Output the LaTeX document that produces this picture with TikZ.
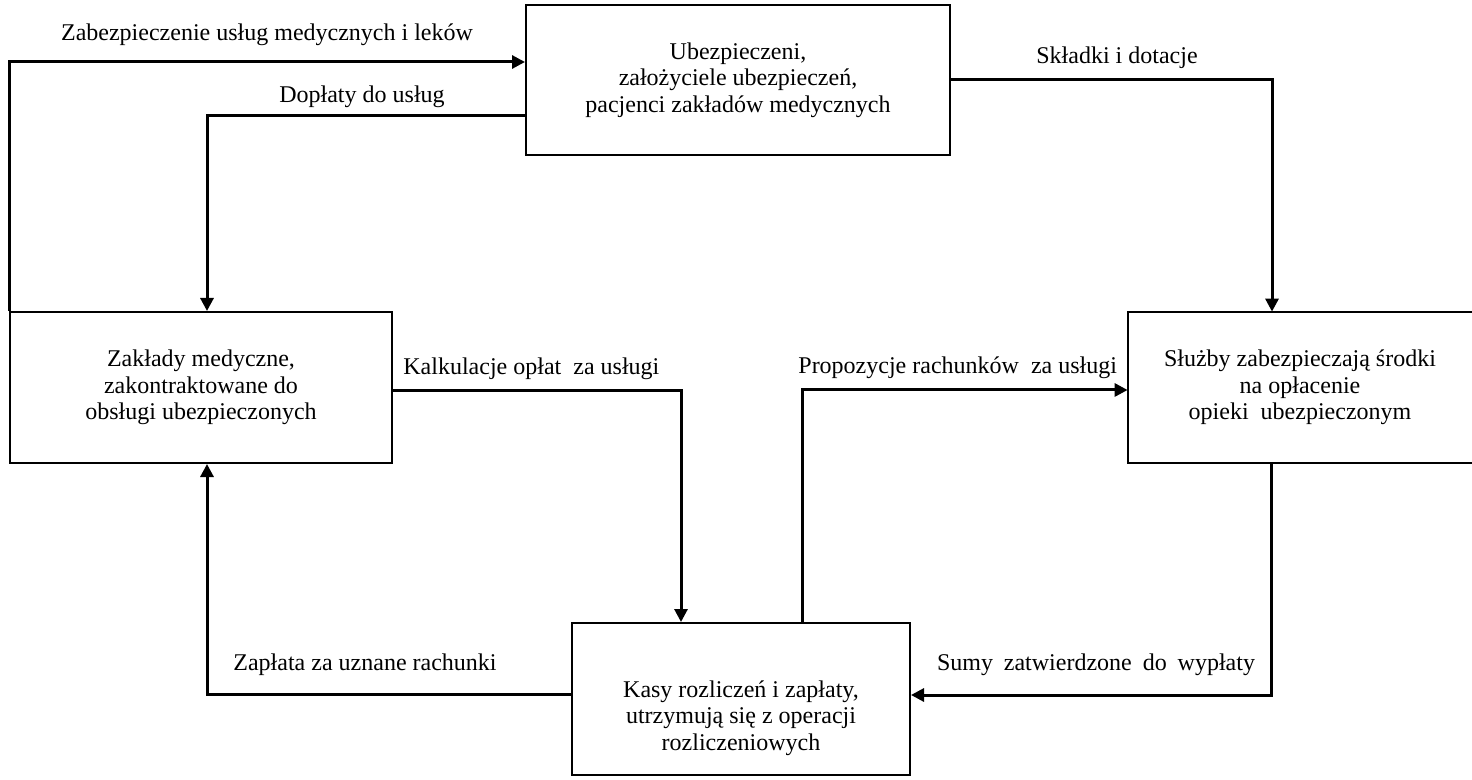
\documentclass[tikz,border=0pt]{standalone}
\usepackage{fontspec}
\setmainfont{Liberation Serif}
\usetikzlibrary{arrows.meta}
\begin{document}
\begin{tikzpicture}[x=0.5pt,y=-0.5pt,
  every node/.style={font=\fontsize{12}{13.25}\selectfont},
  box/.style={draw,line width=1pt,inner sep=0pt,align=center},
  txt/.style={inner sep=0pt,align=center},
  lbl/.style={inner sep=0pt},
  arr/.style={line width=1.5pt,-{Triangle[length=6.5pt,width=6.5pt]}},
  conn/.style={line width=1.5pt}]
\useasboundingbox (0,0) rectangle (1472,780);
\node[box,minimum width=212pt,minimum height=75pt] (top) at (738,80)
  {Ubezpieczeni,\\założyciele ubezpieczeń,\\pacjenci zakładów medycznych};
\node[box,minimum width=191pt,minimum height=75.5pt] (left) at (201,387.5)
  {Zakłady\ medyczne,\\zakontraktowane do\\obsługi ubezpieczonych};
\node[txt,minimum width=172pt,minimum height=75.5pt] (right) at (1300,387.5)
  {Służby zabezpieczają środki\\na opłacenie\\opieki\ \ ubezpieczonym};
\draw[line width=1pt] (right.north east) -- (right.north west) -- (right.south west) -- (right.south east);
\node[box,minimum width=169pt,minimum height=76pt] (bottom) at (741,699) {};
\node[txt] (btext) at (741,718)
  {Kasy rozliczeń i zapłaty,\\utrzymują się z operacji\\rozliczeniowych};
% connectors
\draw[arr] (left.north west) |- ([yshift=9pt]top.west);
\draw[arr] ([yshift=-18pt]top.west) -| ([xshift=3pt]left.north);
\draw[arr] (top.east) -| ([xshift=-14pt]right.north);
\draw[arr] ([yshift=-1.75pt]left.east) -| ([xshift=-30pt]bottom.north);
\draw[arr] ([xshift=30.5pt]bottom.north) |- ([yshift=-1.25pt]right.west);
\draw[arr] ([xshift=-14.5pt]right.south) |- ([yshift=2pt]bottom.east);
\draw[arr] ([yshift=2.5pt]bottom.west) -| ([xshift=3pt]left.south);
% labels
\node[lbl] (l1) at (267,35) {Zabezpieczenie usług medycznych i leków};
\node[lbl] (l2) at (362,97) {Dopłaty do usług};
\node[lbl] (l3) at (1117,58) {Składki i dotacje};
\node[lbl,anchor=west] (l4) at (403,369) {Kalkulacje opłat\ \ za usługi};
\node[lbl,anchor=west] (l5) at (798,368) {Propozycje rachunków\ \ za usługi};
\node[lbl] (l6) at (1096,665) {\makebox[159pt][s]{Sumy zatwierdzone do wypłaty}};
\node[lbl,anchor=west] (l7) at (233,665) {Zapłata za uznane rachunki};
\end{tikzpicture}
\end{document}
